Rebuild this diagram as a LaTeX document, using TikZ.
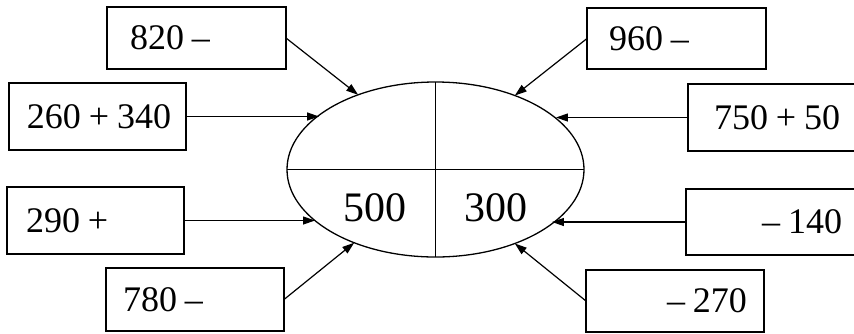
\documentclass[tikz,border=0pt]{standalone}
\usepackage{fontspec}
\setmainfont{Liberation Serif}
\usetikzlibrary{shapes.geometric,arrows.meta}
\newcommand\tsp{\kern0.22em\relax}
\begin{document}
\begin{tikzpicture}[x=1pt,y=-1pt,
  lbl/.style={draw, line width=1.3pt, font=\fontsize{36}{36}\selectfont,
    anchor=north west, inner ysep=0pt, outer sep=0pt},
  arr/.style={line width=1.2pt, -{Triangle[length=12pt,width=8pt]}},
  big/.style={font=\fontsize{42}{42}\selectfont, inner sep=0pt}
]
\clip (0,0) rectangle (854,333);
% boxes
\node[lbl, minimum height=62pt, inner xsep=23pt, text width=133pt, align=left] (a) at (107,7) {\mbox{820\tsp–}};
\node[lbl, minimum height=67pt, inner xsep=18pt, text width=141pt, align=left] (b) at (9,83) {\mbox{260\tsp+\tsp340}};
\node[lbl, minimum height=61pt, inner xsep=22pt, text width=135pt, align=left] (c) at (587,8) {\mbox{960\tsp–}};
\node[lbl, minimum height=67pt, inner xsep=26pt, text width=128pt, align=left] (d) at (688,84) {\mbox{750\tsp+\tsp50}};
\node[lbl, minimum height=67pt, inner xsep=19pt, text width=139pt, align=left] (e) at (7,187) {\mbox{290\tsp+}};
\node[lbl, minimum height=63pt, inner xsep=17pt, text width=144pt, align=left] (f) at (106,268) {\mbox{780\tsp–}};
\node[lbl, minimum height=66pt, inner xsep=24pt, text width=132pt, align=right] (g) at (686,189) {\mbox{–\tsp140}};
\node[lbl, minimum height=62pt, inner xsep=17pt, text width=144pt, align=right] (h) at (586,270) {\mbox{–\tsp270}};
% ellipse
\node[draw, ellipse, line width=1.3pt, minimum width=297pt, minimum height=175pt, inner sep=0pt, outer sep=0pt] (ov) at (435.5,169.5) {};
\draw[line width=1.3pt] (ov.north) -- (ov.south);
\draw[line width=1.3pt] (ov.west) -- (ov.east);
\node[big] (n500) at (375,208) {500};
\node[big] (n300) at (496,208) {300};
% arrows
\draw[arr] (a.east) -- (ov.136);
\draw[arr] (b.east) -- (b.east -| ov.155);
\draw[arr] (c.west) -- (ov.43);
\draw[arr] (d.west) -- (d.west -| ov.23.5);
\draw[arr] (e.east) -- (e.east -| ov.203.5);
\draw[arr] (f.east) -- (ov.222.5);
\draw[arr] (g.west) -- (g.west -| ov.335);
\draw[arr] (h.west) -- (ov.317);
\end{tikzpicture}
\end{document}
